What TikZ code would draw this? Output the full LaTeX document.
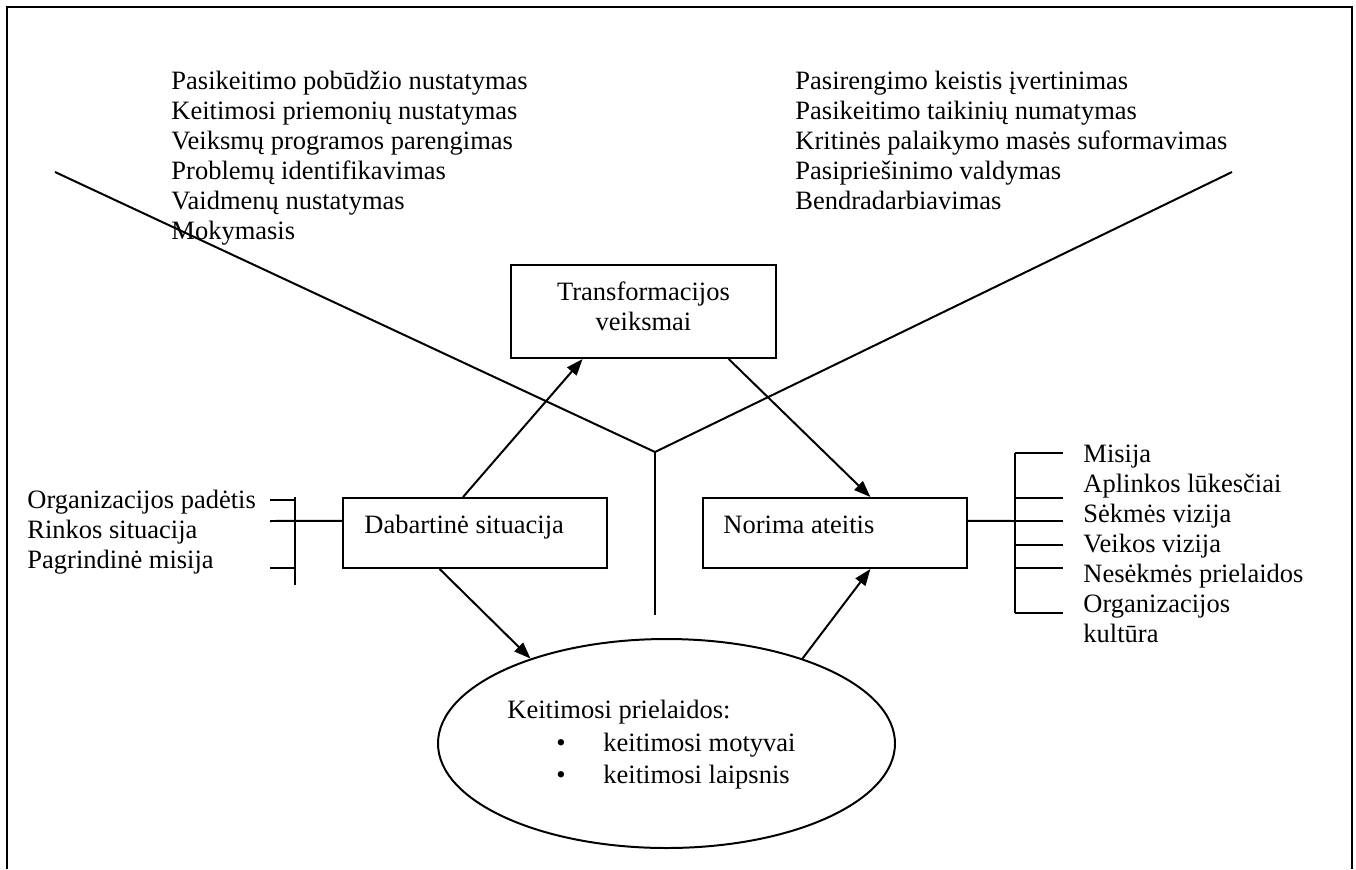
\documentclass[tikz,border=0pt]{standalone}
\usepackage{fontspec}
\setmainfont{Liberation Serif}
\usetikzlibrary{arrows.meta,shapes.geometric,calc}
\newcommand\pxu{0.4528pt}
\begin{document}
\begin{tikzpicture}[x=\pxu,y=-\pxu,
  txt/.style={inner sep=0pt, font=\fontsize{12pt}{13.6pt}\selectfont, anchor=base west},
  ctxt/.style={txt, anchor=base},
  wire/.style={line width=0.9pt},
  arr/.style={wire, -{Triangle[length=7.5pt,width=5.5pt]}},
  box/.style={draw, line width=0.9pt, inner sep=0pt,
    minimum width=264*\pxu, minimum height=70*\pxu}]
\useasboundingbox (0,0) rectangle (1356,869);

% outer frame, open at the bottom
\draw[line width=1.1pt] (7,869) -- (7,7) -- (1352,7) -- (1352,869);

% lists at the top
\foreach \t [count=\i from 0] in {Pasikeitimo pobūdžio nustatymas,
    Keitimosi priemonių nustatymas, Veiksmų programos parengimas,
    Problemų identifikavimas, Vaidmenų nustatymas, Mokymasis}
  \node[txt] (tl\i) at (171,89+30*\i) {\t};
\foreach \t [count=\i from 0] in {Pasirengimo keistis įvertinimas,
    Pasikeitimo taikinių numatymas, Kritinės palaikymo masės suformavimas,
    Pasipriešinimo valdymas, Bendradarbiavimas}
  \node[txt] (tr\i) at (795,89+30*\i) {\t};

% the Y-shaped divider
\coordinate (yj) at (655,452);
\coordinate (yl) at (55,172);
\coordinate (yr) at (1232,172);
\coordinate (yb) at (655,615);
\draw[wire] (yl) -- (yj) -- (yr);
\draw[wire] (yj) -- (yb);

% boxes
\node[box, minimum width=265*\pxu, minimum height=93*\pxu] (trans) at (643.5,311.5) {};
\node[ctxt] (transa) at (643.5,300) {Transformacijos};
\node[ctxt] (transb) at (643.5,330) {veiksmai};

\node[box] (dab) at (475,533) {};
\node[txt] (dabt) at (364,533) {Dabartinė situacija};

\node[box] (nor) at (835,533) {};
\node[txt] (nort) at (723,533) {Norima ateitis};

% ellipse
\node[draw, ellipse, line width=0.9pt, inner sep=0pt,
  minimum width=457*\pxu, minimum height=209*\pxu] (ell) at (666.5,743.5) {};
\node[txt] (ellt) at (507,718) {Keitimosi prielaidos:};
\node[ctxt] (bul1) at (561,751) {•};
\node[txt] (ella) at (603,751) {keitimosi motyvai};
\node[ctxt] (bul2) at (561,783) {•};
\node[txt] (ellb) at (603,783) {keitimosi laipsnis};

% arrows
\draw[arr] ($(dab.north west)!0.455!(dab.north east)$) -- ($(trans.south west)!0.272!(trans.south east)$);
\draw[arr] ($(trans.south west)!0.819!(trans.south east)$) -- ($(nor.north west)!0.633!(nor.north east)$);
\draw[arr] ($(dab.south west)!0.367!(dab.south east)$) -- (ell.148);
\draw[arr] (ell.32) -- ($(nor.south west)!0.633!(nor.south east)$);

% left bracket
\foreach \t [count=\i from 0] in {Organizacijos padėtis, Rinkos situacija, Pagrindinė misija}
  \node[txt] (li\i) at (27,508+30*\i) {\t};
\coordinate (lbt) at (295,497);
\coordinate (lbb) at (295,585);
\draw[wire] (lbt) -- (lbb);
\draw[wire] (270,500) -- (lbt |- 0,500);
\draw[wire] (270,568) -- (lbt |- 0,568);
\draw[wire] (270,521) -- ($(dab.north west)!0.33!(dab.south west)$);

% right bracket
\foreach \t [count=\i from 0] in {Misija, Aplinkos lūkesčiai, Sėkmės vizija, Veikos vizija,
    Nesėkmės prielaidos, Organizacijos, kultūra}
  \node[txt] (ri\i) at (1083,462+30*\i) {\t};
\coordinate (rbt) at (1015,453);
\coordinate (rbb) at (1015,613);
\draw[wire] (rbt) -- (rbb);
\draw[wire] ($(nor.north east)!0.33!(nor.south east)$) -- (rbt |- 0,521);
\foreach \yy in {453,498,521,545,568,613}
  \draw[wire] (rbt |- 0,\yy) -- (1063,\yy);
\end{tikzpicture}
\end{document}
